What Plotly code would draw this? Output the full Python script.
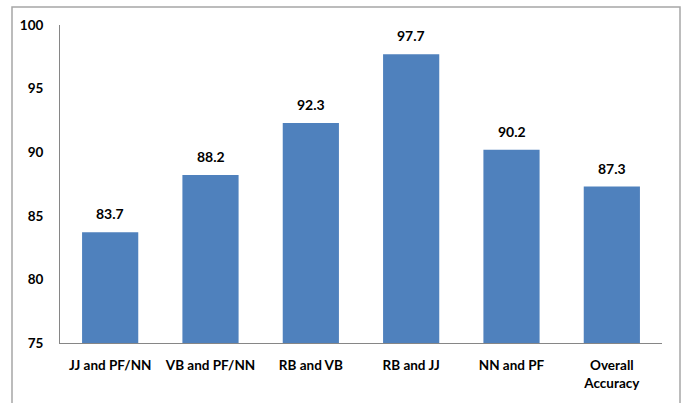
import plotly.graph_objects as go

categories = ["JJ and PF/NN", "VB and PF/NN", "RB and VB", "RB and JJ", "NN and PF", "Overall<br>Accuracy"]
values = [83.7, 88.2, 92.3, 97.7, 90.2, 87.3]
y_ticks = [75, 80, 85, 90, 95, 100]

W, H = 689, 403
L, R, T, B = 60, 27, 25, 58
pw, ph = W - L - R, H - T - B

def px(x):
    return (x - L) / pw

def py(y):
    return (H - B - y) / ph

fig = go.Figure(go.Bar(
    x=categories, y=values,
    marker=dict(color="#4F81BD", line=dict(width=0)),
    hoverinfo="x+y",
))

for c, v in zip(categories, values):
    fig.add_annotation(
        x=c, y=v, text=f"<b>{v:.1f}</b>", showarrow=False,
        yanchor="bottom", yshift=8,
        font=dict(family="Lato", size=14, color="#000000"),
    )

fig.update_layout(
    width=W, height=H,
    margin=dict(l=L, r=R, t=T, b=B),
    paper_bgcolor="white", plot_bgcolor="white",
    bargap=0.44,
    showlegend=False,
    font=dict(family="Lato", size=13, color="#000000"),
    xaxis=dict(
        showline=True, linecolor="#868686", linewidth=1,
        showgrid=False, ticks="", tickfont=dict(family="Lato", size=13.5, color="#000000"),
        ticklabelstandoff=10,
    ),
    yaxis=dict(
        range=[75, 100], tickvals=y_ticks, ticktext=[str(v) for v in y_ticks],
        showline=True, linecolor="#868686", linewidth=1,
        showgrid=False, zeroline=False, ticks="",
        tickfont=dict(family="Lato", size=13.5, color="#000000"),
        ticklabelstandoff=13,
    ),
    shapes=[dict(
        type="rect", xref="paper", yref="paper",
        x0=px(12), x1=px(680), y0=py(415), y1=py(7),
        line=dict(color="#A6A6A6", width=1.5), fillcolor="rgba(0,0,0,0)",
        layer="above",
    )],
)

fig.update_xaxes(tickfont_weight="bold")
fig.update_yaxes(tickfont_weight="bold")

fig.write_html("out.html", config={"displayModeBar": False},
               post_script="document.body.style.margin='0';")
